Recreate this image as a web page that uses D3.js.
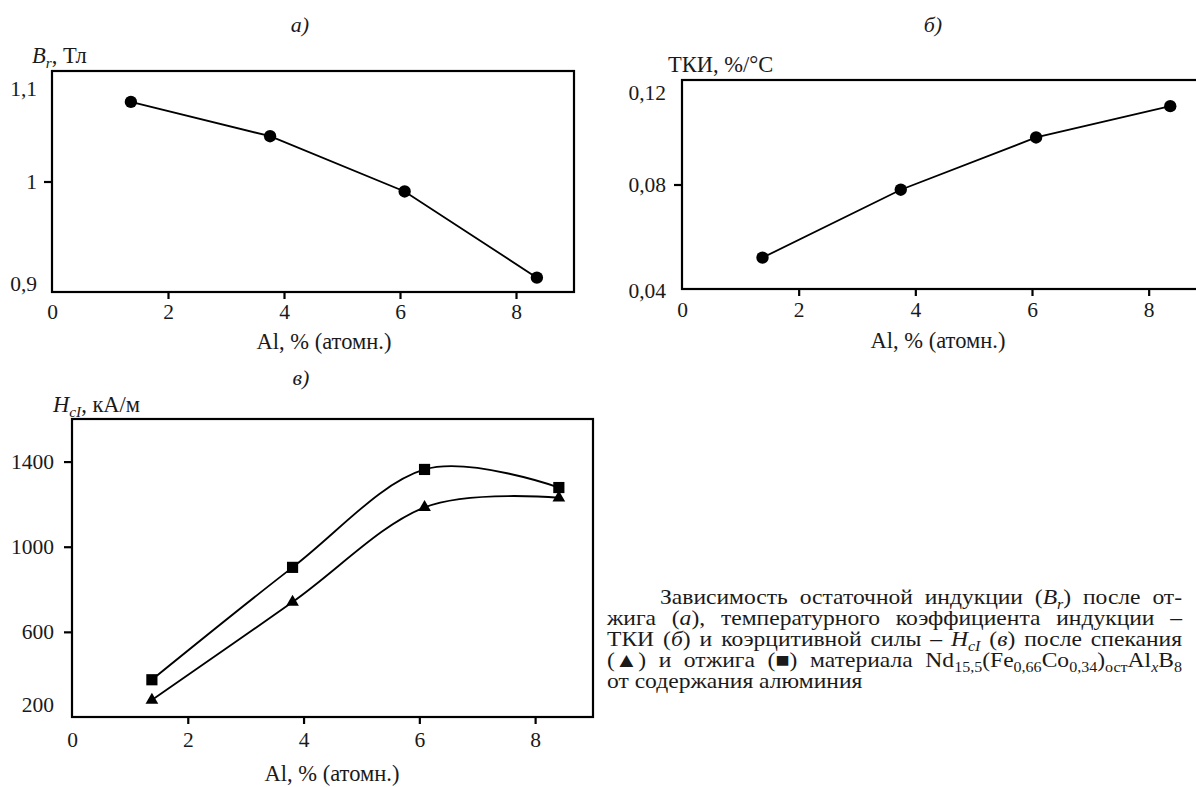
<!DOCTYPE html>
<html lang="ru"><head><meta charset="UTF-8"><title>Зависимость свойств от содержания алюминия</title>
<script src="https://d3js.org/d3.v7.min.js"></script>
<style>
  body { margin: 0; background: #fff; }
  svg, svg text { font-family: "Liberation Serif", "Times New Roman", serif; }
  svg { display: block; }
  text { fill: #1a1a1a; }
  .frame { fill: none; stroke: #000; stroke-width: 2.2px; }
  .tick line { stroke: #000; stroke-width: 2.2px; }
  .curve { fill: none; stroke: #000; stroke-width: 1.8px; }
</style></head><body>
<svg id="fig" width="1196" height="787"></svg>
<script>
// x axis shared by all three panels: Al, % (атомн.)
const xTicks = [0, 2, 4, 6, 8];

// а) B_r after annealing
const alA = [1.36, 3.76, 6.08, 8.36];
const brA = [1.072, 1.041, 0.991, 0.913];
const yTicksA = [0.9, 1.0, 1.1];
const yLabelsA = ["0,9", "1", "1,1"];

// б) TKI
const alB = [1.38, 3.75, 6.07, 8.37];
const tkiB = [0.052, 0.078, 0.098, 0.110];
const yTicksB = [0.04, 0.08, 0.12];
const yLabelsB = ["0,04", "0,08", "0,12"];

// в) H_cI after sintering (triangles) and annealing (squares)
const alC = [1.38, 3.81, 6.09, 8.41];
const hcSinter = [280, 740, 1185, 1230];
const hcAnneal = [375, 903, 1363, 1278];
const yTicksC = [200, 600, 1000, 1400];
const yLabelsC = ["200", "600", "1000", "1400"];

const svg = d3.select("#fig");
const serif = "Liberation Serif";
const tickSize = 21.5, titleSize = 22.5;

function addText(sel, parts, size) {
  // parts: [text, style] where style: "" | "i" | "sub" | "isub"
  let shifted = false;
  parts.forEach(([t, s]) => {
    const ts = sel.append("tspan").text(t);
    const sub = s === "sub" || s === "isub";
    if (s === "i" || s === "isub") ts.attr("font-style", "italic");
    if (sub) {
      ts.attr("font-size", size * 0.68).attr("dy", shifted ? 0 : size * 0.22);
      shifted = true;
    } else if (shifted) {
      ts.attr("dy", -size * 0.22);
      shifted = false;
    }
  });
}

function panel(o) {
  const x = d3.scaleLinear().domain([0, 9]).range([o.left, o.right]);
  const y = d3.scaleLinear().domain(o.yDomain).range([o.bottom, o.top]);
  const g = svg.append("g");

  // x axis
  const gx = g.append("g").attr("transform", `translate(0,${o.bottom})`)
    .call(d3.axisBottom(x).tickValues(xTicks).tickSize(7).tickPadding(o.xPad).tickFormat(d => d));
  gx.attr("font-family", serif).attr("font-size", tickSize);
  gx.select(".domain").remove();
  gx.selectAll(".tick line").filter(d => d === 0).remove();
  gx.selectAll("text").attr("fill", "#1a1a1a");

  // y axis
  const gy = g.append("g").attr("transform", `translate(${o.left},0)`)
    .call(d3.axisLeft(y).tickValues(o.yTicks).tickSize(8).tickPadding(o.yPad)
      .tickFormat((d, i) => o.yLabels[i]));
  gy.attr("font-family", serif).attr("font-size", tickSize);
  gy.select(".domain").remove();
  const [lo, hi] = o.yDomain;
  gy.selectAll(".tick line").filter(d => d === lo || d === hi).remove();
  gy.selectAll("text").attr("fill", "#1a1a1a")
    .attr("dy", d => d === hi ? o.topNudge : d === lo ? o.botNudge : 7);

  // frame
  g.append("rect").attr("class", "frame")
    .attr("x", o.left).attr("y", o.top)
    .attr("width", o.right - o.left).attr("height", o.bottom - o.top);

  // series
  o.series.forEach(s => {
    const pts = o.xs.map((v, i) => [x(v), y(s.values[i])]);
    g.append("path").attr("class", "curve")
      .attr("d", d3.line().curve(o.curve || d3.curveLinear)(pts));
    g.selectAll(null).data(pts).join("path")
      .attr("transform", d => `translate(${d[0]},${d[1]})`)
      .attr("d", d3.symbol().type(s.symbol).size(s.size))
      .attr("fill", "#000");
  });

  // panel letter
  g.append("text").attr("x", o.letterX).attr("y", o.letterY)
    .attr("text-anchor", "middle").attr("font-size", 22).attr("font-style", "italic")
    .text(o.letter);

  // y title
  addText(g.append("text").attr("x", o.yTitleX).attr("y", o.yTitleY).attr("font-size", titleSize),
    o.yTitle, titleSize);

  // x title
  g.append("text").attr("x", o.xTitleX).attr("y", o.xTitleY)
    .attr("text-anchor", "middle").attr("font-size", titleSize)
    .text("Al, % (атомн.)");
}

panel({
  left: 52, right: 574, top: 71, bottom: 292, yDomain: [0.9, 1.1],
  yTicks: yTicksA, yLabels: yLabelsA, xPad: 5, yPad: 7, topNudge: 24, botNudge: -2,
  xs: alA, series: [{ values: brA, symbol: d3.symbolCircle, size: 120 }],
  letter: "а)", letterX: 300, letterY: 32,
  yTitle: [["B", "i"], ["r", "isub"], [", Тл", ""]], yTitleX: 32, yTitleY: 63,
  xTitleX: 324, xTitleY: 349
});

panel({
  left: 682, right: 1207, top: 80, bottom: 289, yDomain: [0.04, 0.12],
  yTicks: yTicksB, yLabels: yLabelsB, xPad: 6, yPad: 8, topNudge: 19, botNudge: 8,
  xs: alB, series: [{ values: tkiB, symbol: d3.symbolCircle, size: 120 }],
  letter: "б)", letterX: 933, letterY: 32,
  yTitle: [["ТКИ, %/°C", ""]], yTitleX: 668, yTitleY: 72,
  xTitleX: 938, xTitleY: 348
});

panel({
  left: 72, right: 593, top: 419, bottom: 717, yDomain: [200, 1600],
  yTicks: yTicksC, yLabels: yLabelsC, xPad: 7.5, yPad: 10, topNudge: 7, botNudge: -6,
  xs: alC, curve: d3.curveCardinal.tension(0),
  series: [
    { values: hcAnneal, symbol: d3.symbolSquare, size: 125 },
    { values: hcSinter, symbol: d3.symbolTriangle, size: 70 }
  ],
  letter: "в)", letterX: 301, letterY: 385,
  yTitle: [["H", "i"], ["cI", "isub"], [", кА/м", ""]], yTitleX: 53, yTitleY: 412,
  xTitleX: 332, xTitleY: 781
});

// caption, slightly widened glyphs (as in the scan), justified by word spacing
const capSize = 20.5, capStretch = 1.15;
const caption = [
  { x: 660, w: 522, parts: [["Зависимость остаточной индукции (", ""], ["B", "i"], ["r", "isub"], [") после от-", ""]] },
  { x: 607, w: 575, parts: [["жига (", ""], ["а", "i"], ["), температурного коэффициента индукции –", ""]] },
  { x: 607, w: 575, parts: [["ТКИ (", ""], ["б", "i"], [") и коэрцитивной силы – ", ""], ["H", "i"], ["cI", "isub"], [" (", ""], ["в", "i"], [") после спекания", ""]] },
  { x: 607, w: 575, parts: [["(▲) и отжига (■) материала Nd", ""], ["15,5", "sub"], ["(Fe", ""], ["0,66", "sub"], ["Co", ""], ["0,34", "sub"], [")", ""], ["ост", "sub"], ["Al", ""], ["x", "isub"], ["B", ""], ["8", "sub"]] },
  { x: 607, w: null, parts: [["от содержания алюминия", ""]] }
];
caption.forEach((ln, i) => {
  const t = svg.append("text")
    .attr("transform", `translate(${ln.x},${604 + i * 21}) scale(${capStretch},1)`)
    .attr("font-size", capSize);
  addText(t, ln.parts, capSize);
  if (ln.w) {
    const spaces = ln.parts.map(p => p[0]).join("").split(" ").length - 1;
    const natural = t.node().getComputedTextLength();
    t.attr("word-spacing", Math.max(0, (ln.w / capStretch - natural) / spaces));
  }
});
</script></body></html>
